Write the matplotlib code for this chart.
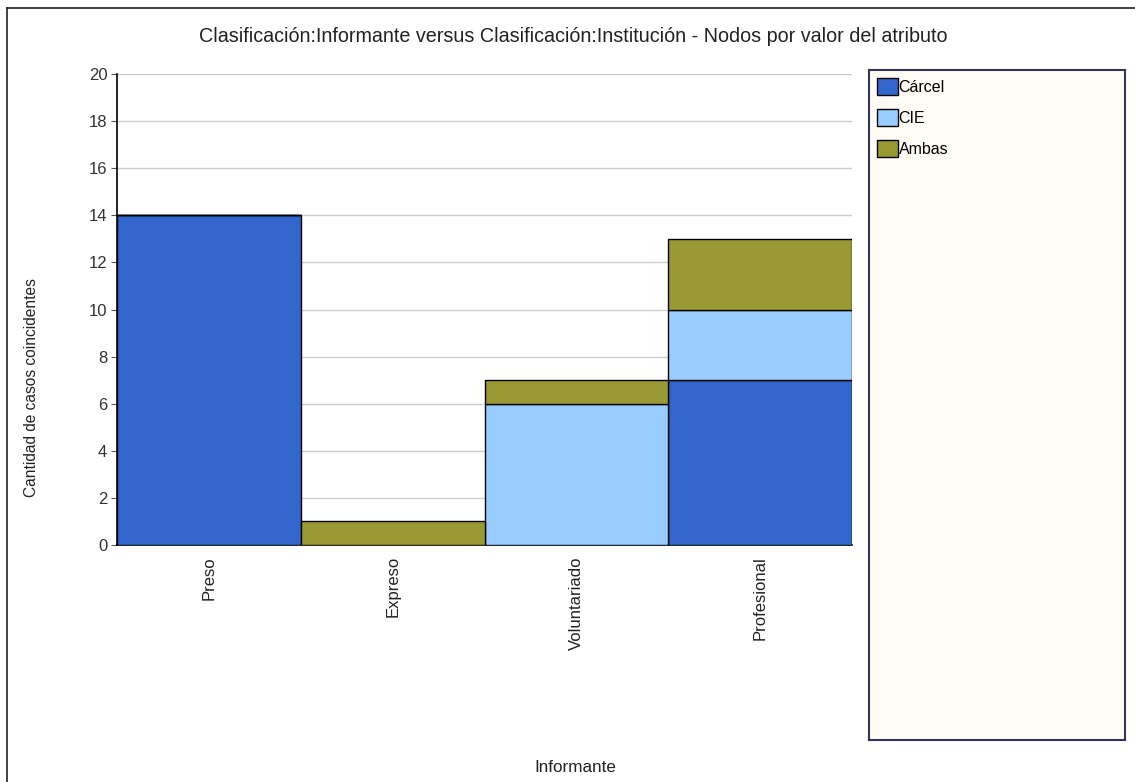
import numpy as np
import matplotlib
matplotlib.use("Agg")
import matplotlib.pyplot as plt
from matplotlib.lines import Line2D

plt.rcParams['font.family'] = ['Liberation Sans', 'DejaVu Sans']

# data
categories = ["Preso", "Expreso", "Voluntariado", "Profesional"]
series_names = ["Cárcel", "CIE", "Ambas"]
carcel = [14, 0, 0, 7]
cie = [0, 0, 6, 3]
ambas = [0, 1, 1, 3]
colors = ["#3366CC", "#99CCFF", "#999933"]
yticks = [0, 2, 4, 6, 8, 10, 12, 14, 16, 18, 20]

W, H = 1135, 782
fig = plt.figure(figsize=(W / 100, H / 100), dpi=100)
fig.patch.set_facecolor("white")

# main axes
ax = fig.add_axes([117 / W, 1 - 545 / H, (852 - 117) / W, (545 - 74) / H])
x = np.arange(len(categories))
bottom = np.zeros(len(categories))
bars = []
for name, vals, c in zip(series_names, [carcel, cie, ambas], colors):
    vals = np.array(vals, dtype=float)
    b = ax.bar(x, vals, width=1.0, bottom=bottom, color=c, edgecolor="black",
               linewidth=1, label=name, zorder=3)
    bars.append(b)
    bottom += vals

ax.set_xlim(-0.5, len(categories) - 0.5)
ax.set_ylim(0, 20)
ax.set_yticks(yticks)
ax.set_yticklabels([str(t) for t in yticks], fontsize=12, color="#333333")
ax.set_xticks(x)
ax.set_xticklabels(categories, rotation=90, fontsize=12, color="#222222")
ax.tick_params(axis="x", length=0, pad=8)
ax.tick_params(axis="y", length=4, width=0.8, color="#555555", pad=3)
ax.grid(axis="y", color="#cccccc", linewidth=1, zorder=0)
for s in ["top", "right"]:
    ax.spines[s].set_visible(False)
ax.spines["left"].set_color("black")
ax.spines["bottom"].set_color("black")
ax.spines["left"].set_linewidth(1.2)
ax.spines["bottom"].set_linewidth(1.2)

# legend panel
lax = fig.add_axes([869 / W, 1 - 740 / H, (1125 - 869) / W, (740 - 70) / H])
lax.set_facecolor("#FFFCF5")
lax.set_xticks([])
lax.set_yticks([])
for s in lax.spines.values():
    s.set_color("#333355")
    s.set_linewidth(1.5)
leg = lax.legend(handles=bars, labels=series_names, loc="upper left",
                 bbox_to_anchor=(0.0, 1.0), frameon=False, fontsize=11.5,
                 handlelength=1.3, handleheight=1.3, handletextpad=0.05,
                 labelspacing=0.85, borderaxespad=0.3, borderpad=0.2)

# texts
fig.text(573 / W, 1 - 36 / H,
         "Clasificación:Informante versus Clasificación:Institución - Nodos por valor del atributo",
         ha="center", va="center", fontsize=14.2, color="#222222")
fig.text(32 / W, 1 - 388 / H, "Cantidad de casos coincidentes", rotation=90,
         ha="center", va="center", fontsize=11.2, color="#222222")
fig.text(575 / W, 1 - 768 / H, "Informante", ha="center", va="center",
         fontsize=12.3, color="#222222")

# outer frame lines (top and left)
fig.add_artist(Line2D([7 / W, 1], [1 - 8 / H, 1 - 8 / H], color="#222222", linewidth=1.2))
fig.add_artist(Line2D([7 / W, 7 / W], [0, 1 - 8 / H], color="#222222", linewidth=1.2))

fig.savefig("out.png", dpi=100)
